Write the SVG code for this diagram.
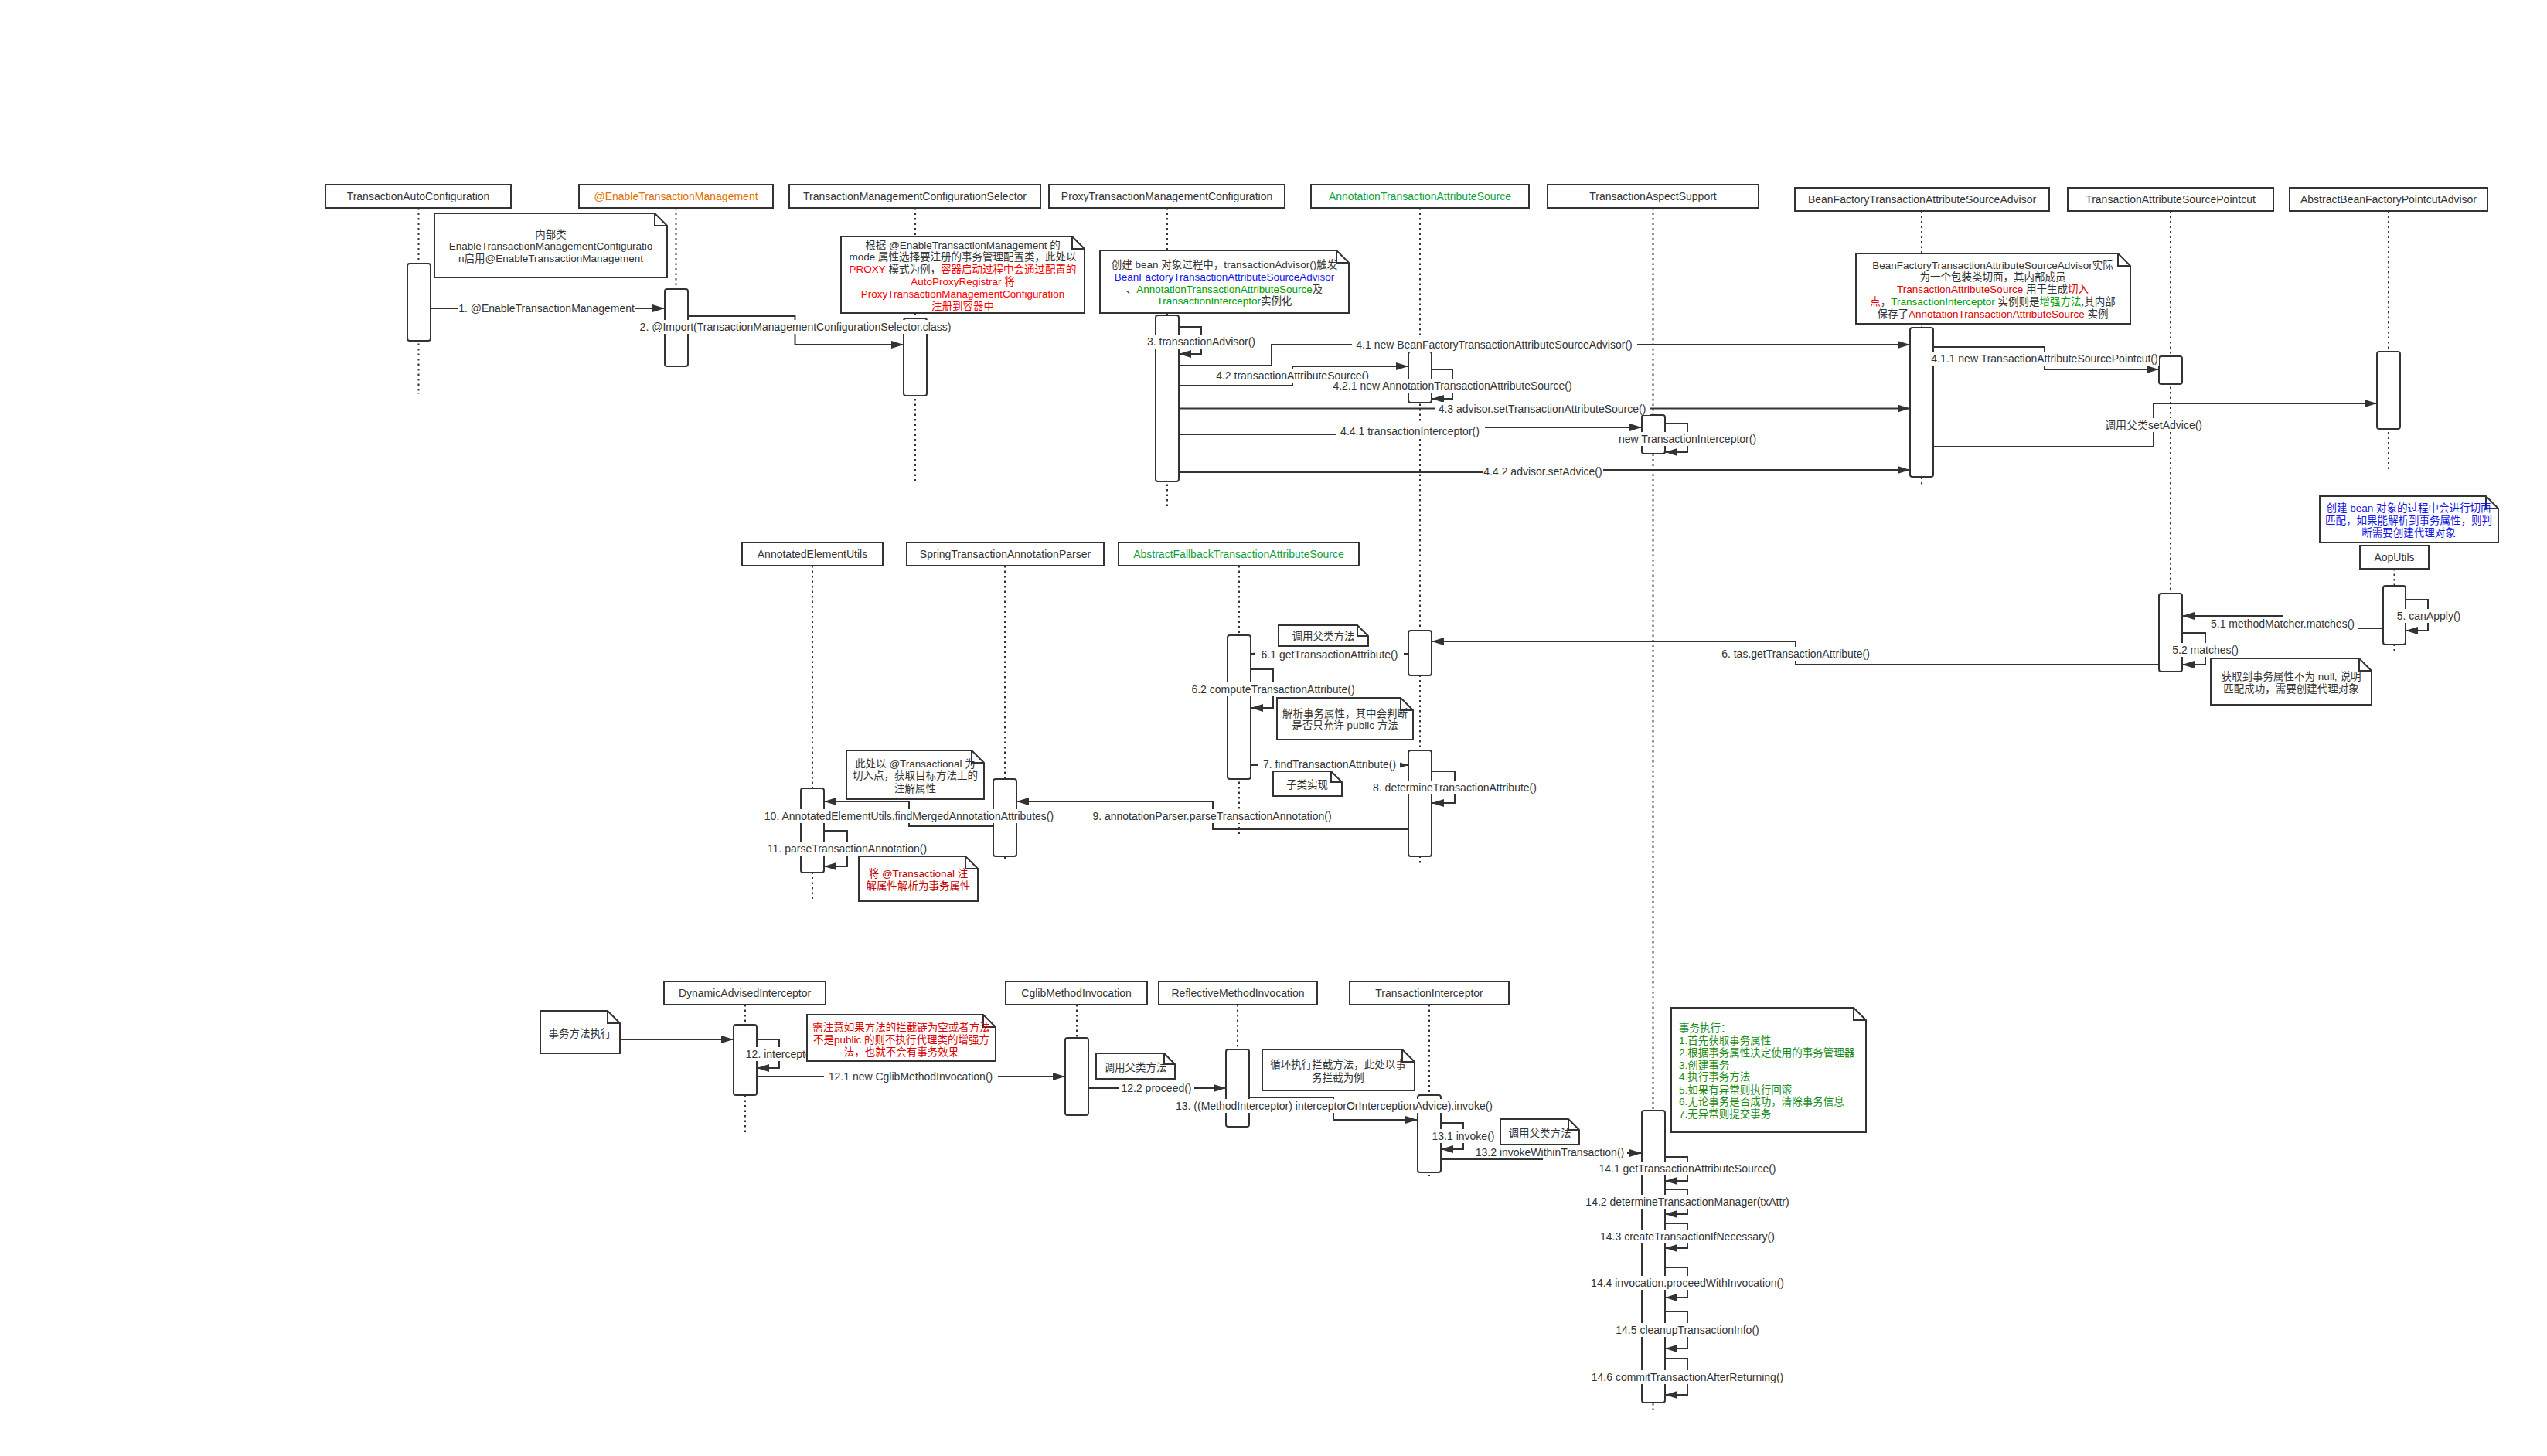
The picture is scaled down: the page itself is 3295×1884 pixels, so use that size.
<svg xmlns="http://www.w3.org/2000/svg" width="3295" height="1884" viewBox="0 0 3295 1884">
<defs>
<marker id="ah" markerWidth="16" markerHeight="10" refX="16" refY="5" orient="auto" markerUnits="userSpaceOnUse"><path d="M0,0 L16,5 L0,10 z" fill="#333"/></marker>
</defs>
<style>
text{font-family:"Liberation Sans","Noto Sans CJK SC",sans-serif;font-size:14px;fill:#333;dominant-baseline:central}
.hd{fill:#fff;stroke:#333;stroke-width:2}
.ll{stroke:#333;stroke-width:2;stroke-dasharray:2.5 4;fill:none}
.act{fill:#fff;stroke:#333;stroke-width:2}
.msg{fill:none;stroke:#333;stroke-width:2;marker-end:url(#ah)}
.bg{fill:#fff}
.note{fill:#fff;stroke:#333;stroke-width:2}
.fold{fill:none;stroke:#333;stroke-width:2}
.m{text-anchor:middle}
.n{font-size:13.5px}
.or{fill:#E07000}
.gh{fill:#10A040}
.r{fill:#FF0000}
.r2{fill:#E00000}
.dr{fill:#C00000}
.g{fill:#00A000}
.g2{fill:#1A8C1A}
.b{fill:#1515E6}
</style>
<rect width="3295" height="1884" fill="#fff"/>

<g id="p1">
<line class="ll" x1="541.5" y1="269" x2="541.5" y2="510"/>
<rect class="hd" x="421" y="239" width="240" height="30"/>
<text class="m" x="541" y="254">TransactionAutoConfiguration</text>
<rect class="act" x="527" y="341" width="30" height="100" rx="3"/>
</g>
<g id="p2">
<line class="ll" x1="874.5" y1="269" x2="874.5" y2="374"/>
<rect class="hd" x="749" y="239" width="251" height="30"/>
<text class="m or" x="874.5" y="254">@EnableTransactionManagement</text>
<rect class="act" x="860" y="374" width="30" height="100" rx="3"/>
</g>
<g id="p3">
<line class="ll" x1="1184" y1="269" x2="1184" y2="625"/>
<rect class="hd" x="1021" y="239" width="325" height="30"/>
<text class="m" x="1183.5" y="254">TransactionManagementConfigurationSelector</text>
<rect class="act" x="1169" y="412" width="30" height="100" rx="3"/>
</g>
<g id="p4">
<line class="ll" x1="1510" y1="269" x2="1510" y2="655"/>
<rect class="hd" x="1357" y="239" width="305" height="30"/>
<text class="m" x="1509.5" y="254">ProxyTransactionManagementConfiguration</text>
<rect class="act" x="1495" y="408" width="30" height="215" rx="3"/>
</g>
<g id="p5">
<line class="ll" x1="1837" y1="269" x2="1837" y2="1120"/>
<rect class="hd" x="1696" y="239" width="282" height="30"/>
<text class="m gh" x="1837" y="254">AnnotationTransactionAttributeSource</text>
<rect class="act" x="1822" y="455" width="30" height="66" rx="3"/>
<rect class="act" x="1822" y="816" width="30" height="58" rx="3"/>
<rect class="act" x="1822" y="971" width="30" height="137" rx="3"/>
</g>
<g id="p6">
<line class="ll" x1="2138.5" y1="269" x2="2138.5" y2="1825"/>
<rect class="hd" x="2002" y="239" width="273" height="30"/>
<text class="m" x="2138.5" y="254">TransactionAspectSupport</text>
<rect class="act" x="2124" y="537" width="30" height="50" rx="3"/>
<rect class="act" x="2124" y="1437" width="30" height="378" rx="3"/>
</g>
<g id="p7">
<line class="ll" x1="2486" y1="273" x2="2486" y2="629"/>
<rect class="hd" x="2322" y="243" width="329" height="30"/>
<text class="m" x="2486.5" y="258">BeanFactoryTransactionAttributeSourceAdvisor</text>
<rect class="act" x="2471" y="424" width="30" height="193" rx="3"/>
</g>
<g id="p8">
<line class="ll" x1="2808" y1="273" x2="2808" y2="869"/>
<rect class="hd" x="2675" y="243" width="266" height="30"/>
<text class="m" x="2808" y="258">TransactionAttributeSourcePointcut</text>
<rect class="act" x="2793" y="461" width="30" height="36" rx="3"/>
<rect class="act" x="2793" y="768" width="30" height="101" rx="3"/>
</g>
<g id="p9">
<line class="ll" x1="3090" y1="273" x2="3090" y2="609"/>
<rect class="hd" x="2962" y="243" width="256" height="30"/>
<text class="m" x="3090" y="258">AbstractBeanFactoryPointcutAdvisor</text>
<rect class="act" x="3075" y="455" width="30" height="100" rx="3"/>
</g>
<g id="p10">
<line class="ll" x1="1051" y1="732" x2="1051" y2="1163"/>
<rect class="hd" x="960" y="702" width="182" height="30"/>
<text class="m" x="1051" y="717">AnnotatedElementUtils</text>
<rect class="act" x="1036" y="1020" width="30" height="109" rx="3"/>
</g>
<g id="p11">
<line class="ll" x1="1300" y1="732" x2="1300" y2="1113"/>
<rect class="hd" x="1173" y="702" width="255" height="30"/>
<text class="m" x="1300.5" y="717">SpringTransactionAnnotationParser</text>
<rect class="act" x="1285" y="1008" width="30" height="100" rx="3"/>
</g>
<g id="p12">
<line class="ll" x1="1603" y1="732" x2="1603" y2="1082"/>
<rect class="hd" x="1447" y="702" width="311" height="30"/>
<text class="m gh" x="1602.5" y="717">AbstractFallbackTransactionAttributeSource</text>
<rect class="act" x="1588" y="822" width="30" height="186" rx="3"/>
</g>
<g id="p13">
<line class="ll" x1="3097.5" y1="736" x2="3097.5" y2="843"/>
<rect class="hd" x="3053" y="706" width="89" height="30"/>
<text class="m" x="3097.5" y="721">AopUtils</text>
<rect class="act" x="3083" y="758" width="29" height="76" rx="3"/>
</g>
<g id="p14">
<line class="ll" x1="964" y1="1300" x2="964" y2="1467"/>
<rect class="hd" x="859" y="1270" width="209" height="30"/>
<text class="m" x="963.5" y="1285">DynamicAdvisedInterceptor</text>
<rect class="act" x="949" y="1326" width="30" height="91" rx="3"/>
</g>
<g id="p15">
<line class="ll" x1="1393" y1="1300" x2="1393" y2="1343"/>
<rect class="hd" x="1301" y="1270" width="183" height="30"/>
<text class="m" x="1392.5" y="1285">CglibMethodInvocation</text>
<rect class="act" x="1378" y="1343" width="30" height="100" rx="3"/>
</g>
<g id="p16">
<line class="ll" x1="1601" y1="1300" x2="1601" y2="1358"/>
<rect class="hd" x="1499" y="1270" width="205" height="30"/>
<text class="m" x="1601.5" y="1285">ReflectiveMethodInvocation</text>
<rect class="act" x="1586" y="1358" width="30" height="100" rx="3"/>
</g>
<g id="p17">
<line class="ll" x1="1849" y1="1300" x2="1849" y2="1522"/>
<rect class="hd" x="1746" y="1270" width="206" height="30"/>
<text class="m" x="1849" y="1285">TransactionInterceptor</text>
<rect class="act" x="1834" y="1417" width="30" height="100" rx="3"/>
</g>

<g id="connectors">
<path class="msg" d="M557,399 H860"/>
<path class="msg" d="M890,409 H1028.5 V446 H1169"/>
<path class="msg" d="M1525,423 H1554 V458 H1525"/>
<path class="msg" d="M1525,473 H1645 V446 H2471"/>
<path class="msg" d="M1525,499 H1672 V474 H1822"/>
<path class="msg" d="M1852,478 H1879 V516 H1852"/>
<path class="msg" d="M1525,528.5 H2471"/>
<path class="msg" d="M1525,562 H1824 V553 H2124"/>
<path class="msg" d="M2154,548 H2183 V585 H2154"/>
<path class="msg" d="M1525,611 H1996 V608 H2471"/>
<path class="msg" d="M2501,449 H2645 V478 H2793"/>
<path class="msg" d="M2501,578 H2786 V522 H3075"/>
<path class="msg" d="M3112,776 H3141 V816 H3112"/>
<path class="msg" d="M3083,813 H2953 V797 H2823"/>
<path class="msg" d="M2823,819 H2853 V860 H2823"/>
<path class="msg" d="M2793,860 H2323 V830 H1852"/>
<path class="msg" d="M1822,846 H1618"/>
<path class="msg" d="M1618,866 H1647 V916 H1618"/>
<path class="msg" d="M1618,990 H1822"/>
<path class="msg" d="M1852,998 H1882 V1039 H1852"/>
<path class="msg" d="M1822,1073 H1569 V1037 H1315"/>
<path class="msg" d="M1285,1069 H1176 V1037 H1066"/>
<path class="msg" d="M1066,1075 H1096 V1121 H1066"/>
<path class="msg" d="M802,1345 H949"/>
<path class="msg" d="M979,1345 H1008 V1382 H979"/>
<path class="msg" d="M979,1393 H1378"/>
<path class="msg" d="M1408,1408 H1586"/>
<path class="msg" d="M1616,1420 H1725 V1449 H1834"/>
<path class="msg" d="M1864,1453 H1893 V1487 H1864"/>
<path class="msg" d="M1864,1500 H1995 V1492 H2124"/>
<path class="msg" d="M2154,1497 H2183 V1528 H2154"/>
<path class="msg" d="M2154,1539 H2183 V1571 H2154"/>
<path class="msg" d="M2154,1583 H2183 V1615 H2154"/>
<path class="msg" d="M2154,1640 H2183 V1679 H2154"/>
<path class="msg" d="M2154,1697 H2183 V1745 H2154"/>
<path class="msg" d="M2154,1758 H2183 V1805 H2154"/>
<g id="labels">
<rect class="bg" x="592" y="390" width="230" height="18"/><text class="m" x="707" y="399">1. @EnableTransactionManagement</text>
<rect class="bg" x="822" y="414" width="414" height="18"/><text class="m" x="1029" y="423">2. @Import(TransactionManagementConfigurationSelector.class)</text>
<rect class="bg" x="1481" y="433" width="146" height="18"/><text class="m" x="1554" y="442">3. transactionAdvisor()</text>
<rect class="bg" x="1749" y="437" width="369" height="18"/><text class="m" x="1933" y="446">4.1 new BeanFactoryTransactionAttributeSourceAdvisor()</text>
<rect class="bg" x="1566" y="477" width="212" height="18"/><text class="m" x="1672" y="486">4.2 transactionAttributeSource()</text>
<rect class="bg" x="1715" y="490" width="328" height="18"/><text class="m" x="1879" y="499">4.2.1 new AnnotationTransactionAttributeSource()</text>
<rect class="bg" x="1856" y="520" width="279" height="17"/><text class="m" x="1995" y="529">4.3 advisor.setTransactionAttributeSource()</text>
<rect class="bg" x="1728" y="549" width="193" height="18"/><text class="m" x="1824" y="558">4.4.1 transactionInterceptor()</text>
<rect class="bg" x="2086" y="559" width="193" height="18"/><text class="m" x="2183" y="568">new TransactionInterceptor()</text>
<rect class="bg" x="1918" y="601" width="156" height="18"/><text class="m" x="1996" y="610">4.4.2 advisor.setAdvice()</text>
<rect class="bg" x="2491" y="455" width="302" height="18"/><text class="m" x="2645" y="464">4.1.1 new TransactionAttributeSourcePointcut()</text>
<rect class="bg" x="2724" y="541" width="126" height="18"/><text class="m" x="2786" y="550">调用父类setAdvice()</text>
<rect class="bg" x="3100" y="788" width="84" height="18"/><text class="m" x="3142" y="797">5. canApply()</text>
<rect class="bg" x="2855" y="798" width="196" height="18"/><text class="m" x="2953" y="807">5.1 methodMatcher.matches()</text>
<rect class="bg" x="2808" y="832" width="90" height="18"/><text class="m" x="2853" y="841">5.2 matches()</text>
<rect class="bg" x="2220" y="837" width="206" height="18"/><text class="m" x="2323" y="846">6. tas.getTransactionAttribute()</text>
<rect class="bg" x="1624" y="838" width="192" height="18"/><text class="m" x="1720" y="847">6.1 getTransactionAttribute()</text>
<rect class="bg" x="1535" y="883" width="225" height="18"/><text class="m" x="1647" y="892">6.2 computeTransactionAttribute()</text>
<rect class="bg" x="1628" y="980" width="183" height="18"/><text class="m" x="1720" y="989">7. findTransactionAttribute()</text>
<rect class="bg" x="1769" y="1010" width="225" height="18"/><text class="m" x="1882" y="1019">8. determineTransactionAttribute()</text>
<rect class="bg" x="1408" y="1047" width="321" height="18"/><text class="m" x="1568" y="1056">9. annotationParser.parseTransactionAnnotation()</text>
<rect class="bg" x="978" y="1047" width="396" height="18"/><text class="m" x="1176" y="1056">10. AnnotatedElementUtils.findMergedAnnotationAttributes()</text>
<rect class="bg" x="987" y="1089" width="217" height="18"/><text class="m" x="1096" y="1098">11. parseTransactionAnnotation()</text>
<rect class="bg" x="963" y="1355" width="90" height="18"/><text class="m" x="1008" y="1364">12. intercept()</text>
<rect class="bg" x="1066" y="1384" width="225" height="18"/><text class="m" x="1178" y="1393">12.1 new CglibMethodInvocation()</text>
<rect class="bg" x="1447" y="1399" width="98" height="18"/><text class="m" x="1496" y="1408">12.2 proceed()</text>
<rect class="bg" x="1506" y="1422" width="440" height="18"/><text class="m" x="1726" y="1431">13. ((MethodInterceptor) interceptorOrInterceptionAdvice).invoke()</text>
<rect class="bg" x="1851" y="1461" width="85" height="18"/><text class="m" x="1893" y="1470">13.1 invoke()</text>
<rect class="bg" x="1905" y="1483" width="200" height="15"/><text class="m" x="2005" y="1491">13.2 invokeWithinTransaction()</text>
<rect class="bg" x="2061" y="1503" width="244" height="18"/><text class="m" x="2183" y="1512">14.1 getTransactionAttributeSource()</text>
<rect class="bg" x="2045" y="1546" width="276" height="18"/><text class="m" x="2183" y="1555">14.2 determineTransactionManager(txAttr)</text>
<rect class="bg" x="2067" y="1591" width="232" height="18"/><text class="m" x="2183" y="1600">14.3 createTransactionIfNecessary()</text>
<rect class="bg" x="2050" y="1651" width="265" height="18"/><text class="m" x="2183" y="1660">14.4 invocation.proceedWithInvocation()</text>
<rect class="bg" x="2086" y="1712" width="194" height="18"/><text class="m" x="2183" y="1721">14.5 cleanupTransactionInfo()</text>
<rect class="bg" x="2053" y="1773" width="260" height="18"/><text class="m" x="2183" y="1782">14.6 commitTransactionAfterReturning()</text>
</g>
</g>

<g id="n1">
<path class="note" d="M562,276 H847 L863,292 V359 H562 Z"/><path class="fold" d="M847,276 V292 H863"/>
<text class="m n" x="712.5" y="303">内部类</text>
<text class="m n" x="712.5" y="318">EnableTransactionManagementConfiguratio</text>
<text class="m n" x="712.5" y="334">n启用@EnableTransactionManagement</text>
</g>
<g id="n2">
<path class="note" d="M1088,306 H1387 L1403,322 V405 H1088 Z"/><path class="fold" d="M1387,306 V322 H1403"/>
<text class="m n" x="1245.5" y="317">根据 @EnableTransactionManagement 的</text>
<text class="m n" x="1245.5" y="332">mode 属性选择要注册的事务管理配置类，此处以</text>
<text class="m n" x="1245.5" y="348"><tspan class="r">PROXY</tspan> 模式为例，<tspan class="r">容器启动过程中会通过配置的</tspan></text>
<text class="m n r" x="1245.5" y="364">AutoProxyRegistrar 将</text>
<text class="m n r" x="1245.5" y="380">ProxyTransactionManagementConfiguration</text>
<text class="m n r" x="1245.5" y="396">注册到容器中</text>
</g>
<g id="n3">
<path class="note" d="M1423,324 H1729 L1745,340 V405 H1423 Z"/><path class="fold" d="M1729,324 V340 H1745"/>
<text class="m n" x="1584" y="342">创建 bean 对象过程中，transactionAdvisor()触发</text>
<text class="m n b" x="1584" y="358">BeanFactoryTransactionAttributeSourceAdvisor</text>
<text class="m n" x="1584" y="374">、<tspan class="g">AnnotationTransactionAttributeSource</tspan>及</text>
<text class="m n" x="1584" y="389"><tspan class="g">TransactionInterceptor</tspan>实例化</text>
</g>
<g id="n4">
<path class="note" d="M2401,328 H2740 L2756,344 V419 H2401 Z"/><path class="fold" d="M2740,328 V344 H2756"/>
<text class="m n" x="2578" y="343">BeanFactoryTransactionAttributeSourceAdvisor实际</text>
<text class="m n" x="2578" y="358">为一个包装类切面，其内部成员</text>
<text class="m n" x="2578" y="374"><tspan class="r2">TransactionAttributeSource</tspan> 用于生成<tspan class="r2">切入</tspan></text>
<text class="m n" x="2578" y="390"><tspan class="r2">点</tspan>，<tspan class="g">TransactionInterceptor</tspan> 实例则是<tspan class="g">增强方法</tspan>,其内部</text>
<text class="m n" x="2578" y="406">保存了<tspan class="r2">AnnotationTransactionAttributeSource</tspan> 实例</text>
</g>
<g id="n5">
<path class="note" d="M3001,642 H3216 L3232,658 V702 H3001 Z"/><path class="fold" d="M3216,642 V658 H3232"/>
<text class="m n b" x="3116" y="657">创建 bean 对象的过程中会进行切面</text>
<text class="m n b" x="3116" y="673">匹配，如果能解析到事务属性，则判</text>
<text class="m n b" x="3116" y="689">断需要创建代理对象</text>
</g>
<g id="n6">
<path class="note" d="M1654,809 H1756 L1770,823 V836 H1654 Z"/><path class="fold" d="M1756,809 V823 H1770"/>
<text class="m n" x="1712" y="823">调用父类方法</text>
</g>
<g id="n7">
<path class="note" d="M1652,903 H1812 L1828,919 V957 H1652 Z"/><path class="fold" d="M1812,903 V919 H1828"/>
<text class="m n" x="1740" y="923">解析事务属性，其中会判断</text>
<text class="m n" x="1740" y="938">是否只允许 public 方法</text>
</g>
<g id="n8">
<path class="note" d="M1647,998 H1722 L1736,1012 V1030 H1647 Z"/><path class="fold" d="M1722,998 V1012 H1736"/>
<text class="m n" x="1691" y="1015">子类实现</text>
</g>
<g id="n9">
<path class="note" d="M1095,971 H1257 L1273,987 V1034 H1095 Z"/><path class="fold" d="M1257,971 V987 H1273"/>
<text class="m n" x="1184" y="988">此处以 @Transactional 为</text>
<text class="m n" x="1184" y="1003">切入点，获取目标方法上的</text>
<text class="m n" x="1184" y="1020">注解属性</text>
</g>
<g id="n10">
<path class="note" d="M1111,1108 H1249 L1265,1124 V1166 H1111 Z"/><path class="fold" d="M1249,1108 V1124 H1265"/>
<text class="m n dr" x="1188" y="1130">将 @Transactional 注</text>
<text class="m n dr" x="1188" y="1146">解属性解析为事务属性</text>
</g>
<g id="n11">
<path class="note" d="M2860,852 H3052 L3068,868 V912 H2860 Z"/><path class="fold" d="M3052,852 V868 H3068"/>
<text class="m n" x="2964" y="875">获取到事务属性不为 null, 说明</text>
<text class="m n" x="2964" y="891">匹配成功，需要创建代理对象</text>
</g>
<g id="n12">
<path class="note" d="M699,1308 H786 L802,1324 V1363 H699 Z"/><path class="fold" d="M786,1308 V1324 H802"/>
<text class="m n" x="750" y="1337">事务方法执行</text>
</g>
<g id="n13">
<path class="note" d="M1044,1313 H1272 L1288,1329 V1373 H1044 Z"/><path class="fold" d="M1272,1313 V1329 H1288"/>
<text class="m n r2" x="1166" y="1329">需注意如果方法的拦截链为空或者方法</text>
<text class="m n r2" x="1166" y="1345">不是public 的则不执行代理类的增强方</text>
<text class="m n r2" x="1166" y="1361">法，也就不会有事务效果</text>
</g>
<g id="n14">
<path class="note" d="M1418,1363 H1506 L1520,1377 V1396 H1418 Z"/><path class="fold" d="M1506,1363 V1377 H1520"/>
<text class="m n" x="1469" y="1381">调用父类方法</text>
</g>
<g id="n15">
<path class="note" d="M1633,1358 H1814 L1830,1374 V1411 H1633 Z"/><path class="fold" d="M1814,1358 V1374 H1830"/>
<text class="m n" x="1731" y="1377">循环执行拦截方法，此处以事</text>
<text class="m n" x="1731" y="1394">务拦截为例</text>
</g>
<g id="n16">
<path class="note" d="M1941,1448 H2029 L2043,1462 V1481 H1941 Z"/><path class="fold" d="M2029,1448 V1462 H2043"/>
<text class="m n" x="1992" y="1466">调用父类方法</text>
</g>
<g id="n17">
<path class="note" d="M2162,1304 H2398 L2414,1320 V1465 H2162 Z"/><path class="fold" d="M2398,1304 V1320 H2414"/>
<text class="n g2" x="2172" y="1330">事务执行：</text>
<text class="n g2" x="2172" y="1346">1.首先获取事务属性</text>
<text class="n g2" x="2172" y="1362">2.根据事务属性决定使用的事务管理器</text>
<text class="n g2" x="2172" y="1378">3.创建事务</text>
<text class="n g2" x="2172" y="1393">4.执行事务方法</text>
<text class="n g2" x="2172" y="1410">5.如果有异常则执行回滚</text>
<text class="n g2" x="2172" y="1425">6.无论事务是否成功，清除事务信息</text>
<text class="n g2" x="2172" y="1441">7.无异常则提交事务</text>
</g>
</svg>
